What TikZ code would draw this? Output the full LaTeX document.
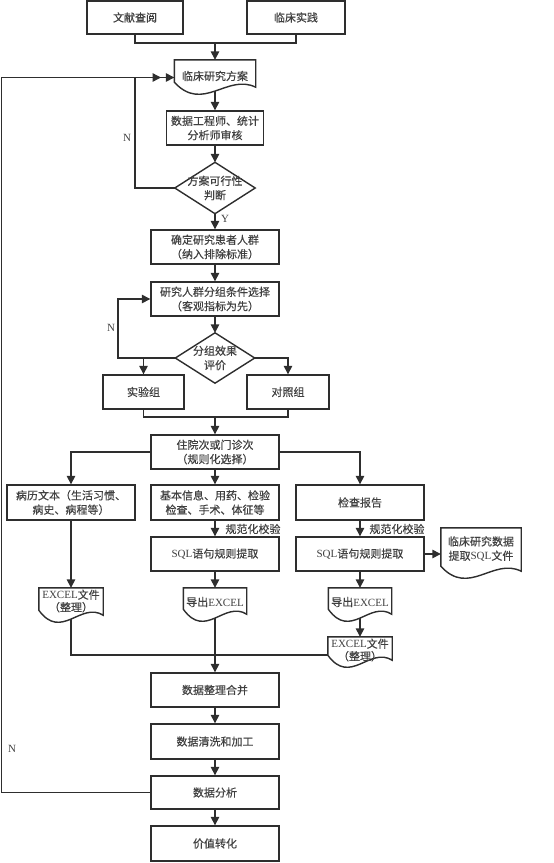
\documentclass[tikz,border=0pt]{standalone}
\usepackage{fontspec}
\setmainfont{Liberation Serif}
\newfontfamily\cjk[FakeBold=0.35]{Noto Sans CJK SC}
\usetikzlibrary{calc,arrows.meta}
\pgfdeclarelayer{bg}
\pgfdeclarelayer{mid}
\pgfsetlayers{bg,mid,main}
\definecolor{ink}{HTML}{2E2E2E}
\definecolor{txt}{HTML}{404040}
\tikzset{
 ln/.style={draw=ink,line width=1.4pt},
 arr/.style={ln,-{Triangle[length=8.5pt,width=8.5pt]}},
 wh/.style 2 args={minimum width=#1pt,minimum height=#2pt},
 box/.style={ln,fill=white,inner sep=0pt,align=center,text=txt,font=\cjk\fontsize{11}{14.3}\selectfont},
 docn/.style={inner sep=0pt,align=center,text=txt,font=\cjk\fontsize{11}{14.3}\selectfont},
 docs/.style={docn,font=\cjk\fontsize{11}{12.5}\selectfont},
 lbl/.style={inner sep=0pt,text=txt,font=\fontsize{11}{12}\selectfont},
 clbl/.style={inner sep=0pt,text=txt,font=\cjk\fontsize{11}{12}\selectfont}
}
% #1 node, #2 extension of the trough below the node's south side
\newcommand\docout[2]{\begin{pgfonlayer}{mid}\draw[ln,fill=white] (#1.north west) -- ($(#1.south west)+(0,#2-13)$) .. controls ($(#1.south west)!0.35!(#1.south east)+(0,#2+18)$) and ($(#1.south west)!0.65!(#1.south east)+(0,#2-22)$) .. ($(#1.south east)+(0,#2-8)$) -- (#1.north east) -- cycle;\end{pgfonlayer}}
\newcommand\dmdout[1]{\begin{pgfonlayer}{mid}\draw[ln,fill=white] (#1.north) -- (#1.east) -- (#1.south) -- (#1.west) -- cycle;\end{pgfonlayer}}
\begin{document}
\begin{tikzpicture}[x=1pt,y=-1pt]
\useasboundingbox (0,0) rectangle (554,863);
% nodes
\node[box,wh={96}{33}] (wx) at (135,17.5) {文献查阅};
\node[box,wh={98}{33}] (lc) at (296,17.5) {临床实践};
\node[docn,wh={81}{32}] (fa) at (215,76) {临床研究方案};
\node[box,wh={97}{34}] (sh) at (215,128) {数据工程师、统计\\分析师审核};
\node[docn,wh={80}{51}] (d1) at (215,188) {方案可行性\\判断};
\node[box,wh={128}{34}] (p1) at (215,247) {确定研究患者人群\\（纳入排除标准）};
\node[box,wh={128}{34}] (p2) at (215,299) {研究人群分组条件选择\\（客观指标为先）};
\node[docn,wh={79}{50}] (d2) at (215,358) {分组效果\\评价};
\node[box,wh={81}{34}] (g1) at (143.5,392) {实验组};
\node[box,wh={82}{34}] (g2) at (288,392) {对照组};
\node[box,wh={128}{34}] (h) at (215,452) {住院次或门诊次\\（规则化选择）};
\node[box,wh={128}{35}] (t1) at (71,502.5) {病历文本（生活习惯、\\病史、病程等）};
\node[box,wh={128}{35}] (t2) at (215,502.5) {基本信息、用药、检验\\检查、手术、体征等};
\node[box,wh={128}{35}] (t3) at (360,502.5) {检查报告};
\node[box,wh={128}{34}] (s2) at (215,554) {{\rmfamily SQL}语句规则提取};
\node[box,wh={128}{34}] (s3) at (360,554) {{\rmfamily SQL}语句规则提取};
\node[docn,wh={80}{42}] (sq) at (481,549) {临床研究数据\\提取{\rmfamily SQL}文件};
\node[docn,wh={63}{28}] (ex1) at (215,602) {导出{\rmfamily EXCEL}};
\node[docn,wh={63}{28}] (ex2) at (360,602) {导出{\rmfamily EXCEL}};
\node[docs,wh={64}{26}] (ef1) at (71,601) {{\rmfamily EXCEL}文件\\（整理）};
\node[docs,wh={64}{26}] (ef2) at (360,650) {{\rmfamily EXCEL}文件\\（整理）};
\node[box,wh={128}{34}] (m1) at (215,690) {数据整理合并};
\node[box,wh={128}{35}] (m2) at (215,741.5) {数据清洗和加工};
\node[box,wh={128}{33}] (m3) at (215,792.5) {数据分析};
\node[box,wh={128}{35}] (m4) at (215,843.5) {价值转化};
% shapes
\docout{fa}{3}\docout{sq}{9}\docout{ex1}{6}\docout{ex2}{6}\docout{ef1}{9}\docout{ef2}{5}
\dmdout{d1}\dmdout{d2}
% labels
\node[lbl] (nl1) at (127,138) {N};
\node[lbl] (nl2) at (111,328) {N};
\node[lbl] (nl3) at (12,749) {N};
\node[lbl] (yl) at (225,219) {Y};
\node[clbl] (r1) at (253,529) {规范化校验};
\node[clbl] (r2) at (397,529) {规范化校验};
% connectors
\begin{pgfonlayer}{bg}
\coordinate (j1) at (215,43);
\draw[ln] (wx.south) |- (j1) -| (lc.south);
\draw[arr] (j1) -- (fa.north);
\draw[arr] (fa.center) -- (sh.north);
\draw[arr] (sh.south) -- (d1.north);
\coordinate (n1) at (135,77.5);
\draw[arr] (d1.west) -| (n1) -- (fa.west |- n1);
\coordinate (n2) at (1.5,77.5);
\coordinate (n3) at (161,77.5);
\draw[arr] (m3.west) -| (n2) -- (n3);
\draw[arr] (d1.south) -- (p1.north);
\draw[arr] (p1.south) -- (p2.north);
\draw[arr] (p2.south) -- (d2.north);
\coordinate (n4) at (118,299);
\draw[arr] (d2.west) -| (n4) -- (p2.west);
\coordinate (b1) at (143.5,358);
\draw[arr] (b1) -- (g1.north);
\draw[arr] (d2.east) -| (g2.north);
\coordinate (j2) at (215,417);
\draw[ln] (g1.south) |- (j2) -| (g2.south);
\draw[arr] (j2) -- (h.north);
\draw[arr] (h.west) -| (t1.north);
\draw[arr] (h.south) -- (t2.north);
\draw[arr] (h.east) -| (t3.north);
\draw[arr] (t2.south) -- (s2.north);
\draw[arr] (t3.south) -- (s3.north);
\draw[arr] (s3.east) -- (sq.west |- s3.east);
\draw[arr] (s2.south) -- (ex1.north);
\draw[arr] (s3.south) -- (ex2.north);
\draw[arr] (t1.south) -- (ef1.north);
\draw[arr] (ex2.center) -- (ef2.north);
\coordinate (j3) at (71,655);
\draw[ln] (ef1.center) -- (j3) -- (ef2.west |- j3);
\draw[arr] (ex1.center) -- (m1.north);
\draw[arr] (m1.south) -- (m2.north);
\draw[arr] (m2.south) -- (m3.north);
\draw[arr] (m3.south) -- (m4.north);
\end{pgfonlayer}
\end{tikzpicture}
\end{document}
